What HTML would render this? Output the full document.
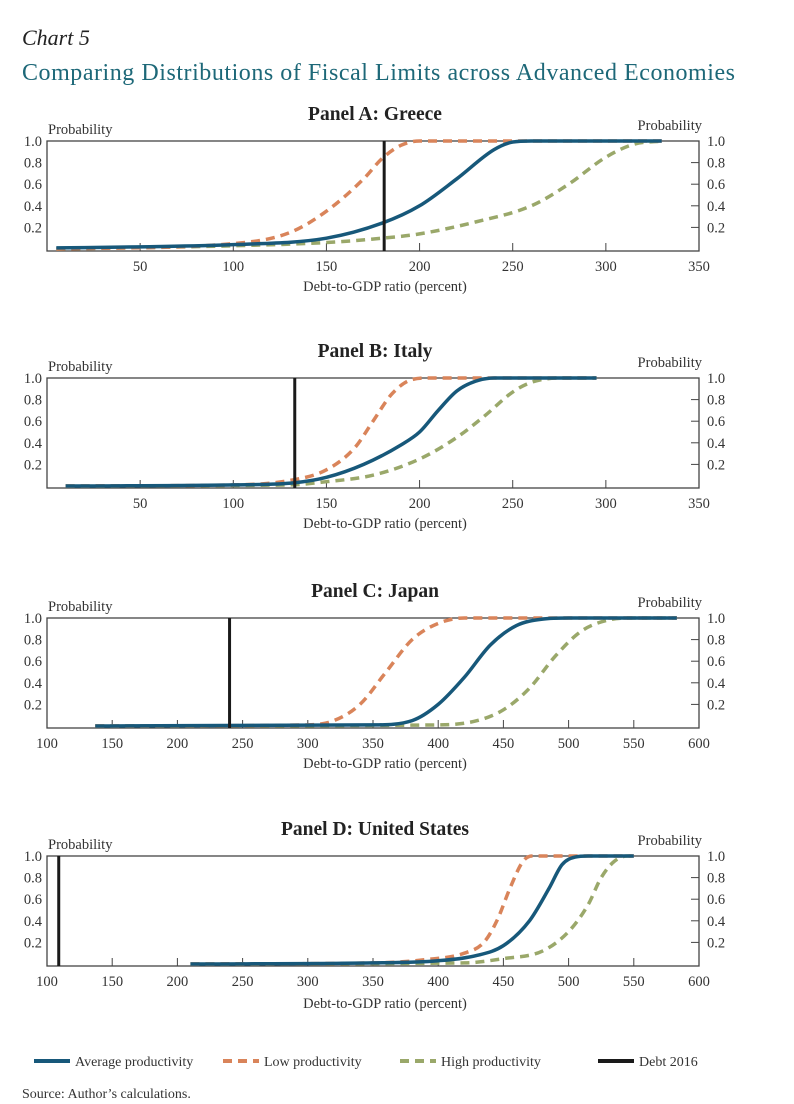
<!DOCTYPE html>
<html><head><meta charset="utf-8">
<style>
body{margin:0;background:#fff;width:794px;height:1104px;overflow:hidden;font-family:"Liberation Serif",serif;}
svg{position:absolute;left:0;top:0}
</style></head>
<body>
<svg id="c" width="794" height="1104" font-family="Liberation Serif, serif">
<text x="22" y="45" font-size="22" font-style="italic" fill="#222">Chart 5</text>
<text x="22" y="80" font-size="24" fill="#1d6878" textLength="713" lengthAdjust="spacing">Comparing Distributions of Fiscal Limits across Advanced Economies</text>
<g id="legend" font-size="14" fill="#333">
<g><line x1="34" y1="1061" x2="70" y2="1061" stroke="#17587a" stroke-width="4"/><text x="75" y="1066">Average productivity</text></g>
<g><line x1="223" y1="1061" x2="259" y2="1061" stroke="#d9845a" stroke-width="4" stroke-dasharray="9,6"/><text x="264" y="1066">Low productivity</text></g>
<g><line x1="400" y1="1061" x2="436" y2="1061" stroke="#9aa86a" stroke-width="4" stroke-dasharray="9,6"/><text x="441" y="1066">High productivity</text></g>
<g><line x1="598" y1="1061" x2="634" y2="1061" stroke="#1a1a1a" stroke-width="4"/><text x="639" y="1066">Debt 2016</text></g>
</g>
<text x="22" y="1098" font-size="14" fill="#333">Source: Author’s calculations.</text>
</svg>
<script>
const panelTitles=["Panel A: Greece","Panel B: Italy","Panel C: Japan","Panel D: United States"];
const xMins=[0,0,100,100];
const xMaxs=[350,350,600,600];
const xTickLabels=[[50,100,150,200,250,300,350],[50,100,150,200,250,300,350],[100,150,200,250,300,350,400,450,500,550,600],[100,150,200,250,300,350,400,450,500,550,600]];
const yTickLabels=[0.2,0.4,0.6,0.8,1.0];
const debt2016=[181,133,240,109];
const avgX=[[5,50,100,150,180,200,220,240,250,260,330],[10,100,133,150,170,190,200,210,220,230,240,295],[137,350,380,400,420,440,460,480,500,583],[210,350,400,430,450,470,485,495,505,515,550]];
const avgY=[[0.01,0.02,0.04,0.1,0.24,0.4,0.65,0.92,0.99,1,1],[0,0.01,0.03,0.08,0.2,0.38,0.5,0.7,0.88,0.97,1,1],[0,0.01,0.05,0.2,0.45,0.75,0.93,0.99,1,1],[0,0.01,0.03,0.08,0.17,0.4,0.7,0.92,0.99,1,1]];
const lowX=[[5,100,130,150,170,180,190,200,330],[10,100,130,150,165,175,185,195,205,295],[137,300,320,340,360,380,400,420,583],[210,350,390,420,435,445,455,465,472,550]];
const lowY=[[0,0.05,0.15,0.35,0.65,0.84,0.96,1,1],[0,0.01,0.05,0.15,0.35,0.6,0.85,0.98,1,1],[0,0.01,0.05,0.2,0.5,0.8,0.95,1,1],[0,0.01,0.04,0.1,0.2,0.4,0.7,0.95,1,1]];
const highX=[[5,100,150,180,200,230,260,280,300,315,330],[10,130,150,175,200,220,235,250,260,275,295],[137,400,430,450,470,490,510,530,550,583],[210,420,450,480,500,515,525,535,545,550]];
const highY=[[0,0.03,0.06,0.1,0.14,0.25,0.4,0.6,0.85,0.97,1],[0,0.01,0.04,0.1,0.25,0.45,0.65,0.87,0.96,1,1],[0,0.01,0.05,0.15,0.35,0.65,0.88,0.98,1,1],[0,0.01,0.05,0.12,0.3,0.55,0.8,0.95,1,1]];

const svg=document.getElementById('c');
const NS='http://www.w3.org/2000/svg';
const tops=[141,378,618,856];
const L=47,R=699,PH=108;
function mk(tag,attrs,parent){const e=document.createElementNS(NS,tag);for(const k in attrs)e.setAttribute(k,attrs[k]);(parent||svg).appendChild(e);return e;}
function monotone(pts){
  const n=pts.length,d=[],m=[];
  for(let i=0;i<n-1;i++)d.push((pts[i+1][1]-pts[i][1])/(pts[i+1][0]-pts[i][0]));
  m[0]=d[0];m[n-1]=d[n-2];
  for(let i=1;i<n-1;i++){m[i]=(d[i-1]*d[i]<=0)?0:(d[i-1]+d[i])/2;}
  for(let i=0;i<n-1;i++){if(d[i]===0){m[i]=0;m[i+1]=0;continue;}const a=m[i]/d[i],b=m[i+1]/d[i],s=a*a+b*b;if(s>9){const t=3/Math.sqrt(s);m[i]=t*a*d[i];m[i+1]=t*b*d[i];}}
  let p='M'+pts[0][0]+','+pts[0][1];
  for(let i=0;i<n-1;i++){const h=(pts[i+1][0]-pts[i][0])/3;p+=` C${pts[i][0]+h},${pts[i][1]+m[i]*h} ${pts[i+1][0]-h},${pts[i+1][1]-m[i+1]*h} ${pts[i+1][0]},${pts[i+1][1]}`;}
  return p;
}
const keys=['a','b','c','d'];
for(let p=0;p<4;p++){
  const T=tops[p],B=T+PH;
  const g=mk('g',{});
  
  
  const xs=v=>L+(v-xMins[p])/(xMaxs[p]-xMins[p])*(R-L);
  const ys=v=>B-v*(PH);
  const t=mk('text',{x:375,y:T-21,'text-anchor':'middle','font-size':19.5,'font-weight':'bold',fill:'#222'},g);t.textContent=panelTitles[p];
  
  
  const pl=mk('text',{x:48,y:T-7,'font-size':14.5,fill:'#333'},g);pl.textContent='Probability';
  
  
  const pr=mk('text',{x:702,y:T-11,'font-size':14.5,fill:'#333','text-anchor':'end'},g);pr.textContent='Probability';
  
  
  const box=mk('rect',{x:L,y:T,width:R-L,height:PH+2,fill:'none',stroke:'#444','stroke-width':1.3},g);
  
  
  yTickLabels.forEach(v=>{
    const y=ys(v);
    mk('line',{x1:R-8,x2:R,y1:y,y2:y,stroke:'#444','stroke-width':1},g);
    const a=mk('text',{x:L-5,y:y+5,'text-anchor':'end','font-size':14.5,fill:'#333'},g);a.textContent=v.toFixed(1);
    
    
    const b=mk('text',{x:R+8,y:y+5,'font-size':14.5,fill:'#333'},g);b.textContent=v.toFixed(1);
    
    
  });
  xTickLabels[p].forEach(v=>{
    const x=xs(v);
    mk('line',{x1:x,x2:x,y1:B+2,y2:B-6,stroke:'#444','stroke-width':1},g);
    const a=mk('text',{x:x,y:B+22,'text-anchor':'middle','font-size':14.5,fill:'#333'},g);a.textContent=v;
    
    
  });
  const xt=mk('text',{x:385,y:B+(p==3?44:42),'text-anchor':'middle','font-size':14.5,fill:'#333'},g);xt.textContent='Debt-to-GDP ratio (percent)';
  
  
  const series=[[highX[p],highY[p],'#9aa86a','9,6','high-productivity-line'],[lowX[p],lowY[p],'#d9845a','9,6','low-productivity-line'],[avgX[p],avgY[p],'#17587a','','average-productivity-line']];
  series.forEach(s=>{
    const pts=s[0].map((x,i)=>[xs(x),ys(s[1][i])]);
    const path=mk('path',{d:monotone(pts),fill:'none',stroke:s[2],'stroke-width':3.5},g);
    if(s[3])path.setAttribute('stroke-dasharray',s[3]);
    
    
  });
  const dx=xs(debt2016[p]);
  const dl=mk('line',{x1:dx,x2:dx,y1:T,y2:B+2,stroke:'#1a1a1a','stroke-width':3},g);
  
  
}
</script>
</body></html>
